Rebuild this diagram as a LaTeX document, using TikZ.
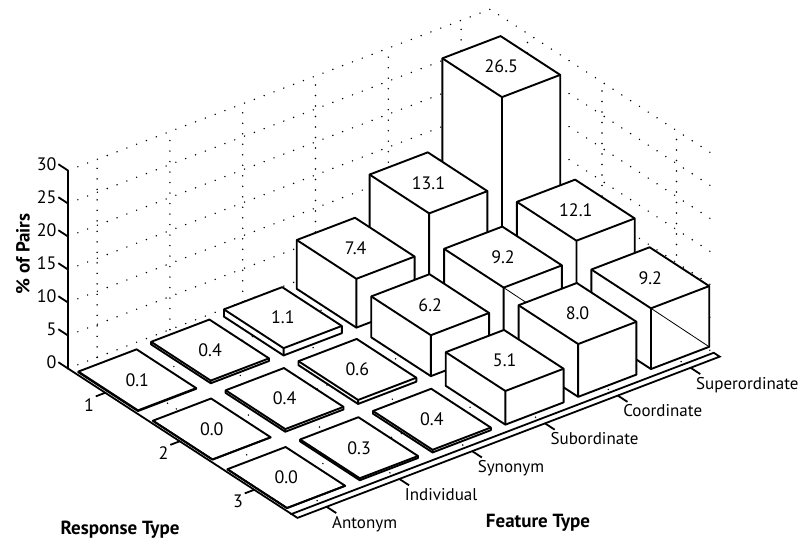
\documentclass[tikz,border=0pt]{standalone}
\usepackage{fontspec}
\setmainfont{PT Sans}
\usepackage{tikz}
\usetikzlibrary{calc}

\tikzset{
  barline/.style={line width=1.9pt, line join=round},
  gridline/.style={line width=1.6pt, dash pattern=on 0pt off 10.5pt, line cap=round},
  axisline/.style={line width=1.8pt},
  barlabel/.style={font=\fontsize{18}{18}\selectfont, inner sep=0pt},
  ticklabel/.style={font=\fontsize{18}{18}\selectfont, inner sep=1pt},
  featlabel/.style={font=\fontsize{17}{17}\selectfont, inner sep=1pt, anchor=north west, xshift=-6pt, yshift=-1pt},
  axtitle/.style={font=\fontsize{19}{19}\selectfont\bfseries, inner sep=0pt}
}

% one bar: column, row, height, name
\newcommand{\featbar}[4]{%
  \pgfmathsetmacro\fa{#1+0.04}\pgfmathsetmacro\fb{#1+0.84}%
  \pgfmathsetmacro\ra{#2+0.1}\pgfmathsetmacro\rb{#2+0.9}%
  \filldraw[barline, fill=white] (\fa,\ra,0) -- (\fa,\rb,0) -- (\fb,\rb,0) -- (\fb,\rb,#3)
    -- (\fb,\ra,#3) -- (\fa,\ra,#3) -- cycle;
  \draw[barline] (\fa,\rb,0) -- (\fa,\rb,#3) -- (\fb,\rb,#3) (\fa,\rb,#3) -- (\fa,\ra,#3);
  \draw (#1+0.44,#2+0.5,#3) node[barlabel] (#4) {#3};
}

\begin{document}
\begin{tikzpicture}[x={(72.8pt,27.8pt)}, y={(74.5pt,-48.5pt)}, z={(0pt,6.6pt)}]
\path[use as bounding box] (-68pt,368.5pt) rectangle (731pt,-175.5pt);

% dotted grid: back wall, right wall, floor
\foreach \z in {0,5,...,30} {
  \draw[gridline] (0,0,\z) -- (5.8,0,\z) -- (5.8,3,\z);
}
\foreach \f in {0.4,1.4,...,5.4} {
  \draw[gridline] (\f,0,0) -- (\f,0,30);
  \draw[gridline] (\f,0,0) -- (\f,3,0);
}
\foreach \r in {0.5,1.5,2.5} {
  \draw[gridline] (5.8,\r,0) -- (5.8,\r,30);
  \draw[gridline] (0,\r,0) -- (5.8,\r,0);
}

% axes
\draw[axisline] (0,0,30) -- (0,0,0) -- (0,3,0);
\draw[axisline] (0,3,0) -- (5.8,3,0) -- (5.8,3.08,0) -- (0,3.08,0) -- cycle;
\foreach \z in {0,5,...,30} {
  \draw[axisline] (0,0,\z) -- (0,-0.13,\z) node[ticklabel, anchor=east] (zt\z) {\z};
}
\foreach \r/\lab in {0.5/1, 1.5/2, 2.5/3} {
  \draw[axisline] (0,\r,0) -- (-0.13,\r,0) node[ticklabel, anchor=north east] (rt\lab) {\lab};
}
\foreach \f/\lab in {0.4/Antonym, 1.4/Individual, 2.4/Synonym, 3.4/Subordinate, 4.4/Coordinate, 5.4/Superordinate} {
  \draw[axisline] (\f,3.08,0) -- (\f,3.21,0) node[featlabel] (ft\lab) {\lab};
}

% bars, back to front
\featbar{5}{0}{26.5}{sup1}
\featbar{4}{0}{13.1}{coo1}
\featbar{3}{0}{7.4}{sub1}
\featbar{2}{0}{1.1}{syn1}
\featbar{1}{0}{0.4}{ind1}
\featbar{0}{0}{0.1}{ant1}
\featbar{5}{1}{12.1}{sup2}
\featbar{4}{1}{9.2}{coo2}
\draw[line width=0.8pt] (4.04,1.9,9.2) -- (4.84,1.9,0);
\featbar{3}{1}{6.2}{sub2}
\featbar{2}{1}{0.6}{syn2}
\featbar{1}{1}{0.4}{ind2}
\featbar{0}{1}{0.0}{ant2}
\featbar{5}{2}{9.2}{sup3}
\draw[line width=0.8pt] (5.04,2.9,9.2) -- (5.84,2.9,0);
\featbar{4}{2}{8.0}{coo3}
\featbar{3}{2}{5.1}{sub3}
\featbar{2}{2}{0.4}{syn3}
\featbar{1}{2}{0.3}{ind3}
\featbar{0}{2}{0.0}{ant3}

% axis titles
\draw (52pt,-161.5pt) node[axtitle] (resp) {Response Type};
\draw (470pt,-154.5pt) node[axtitle] (feat) {Feature Type};
\draw (-45pt,114.5pt) node[axtitle, rotate=90] (pct) {\% of Pairs};
\end{tikzpicture}
\end{document}
